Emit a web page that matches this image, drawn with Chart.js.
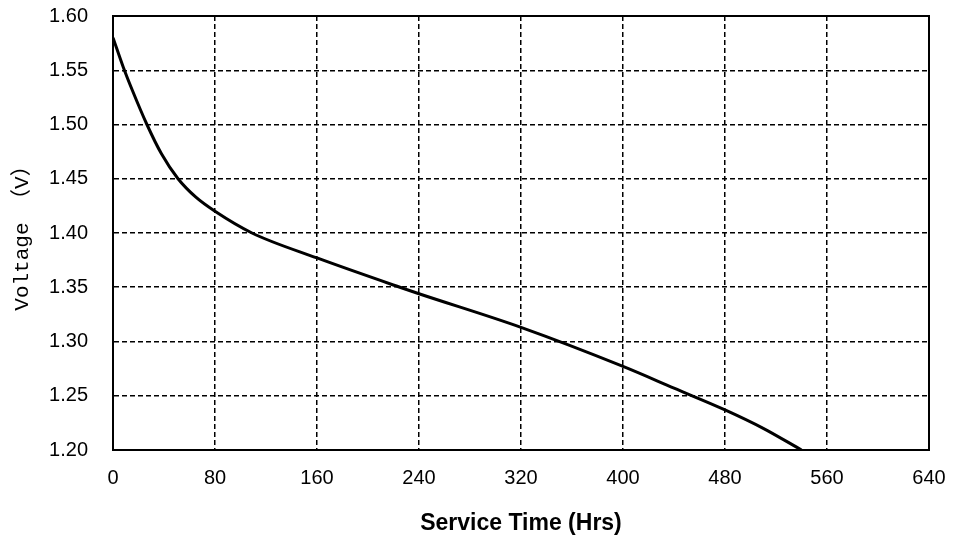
<!DOCTYPE html>
<html>
<head>
<meta charset="utf-8">
<script src="https://cdn.jsdelivr.net/npm/chart.js@4"></script>
<style>
  html, body { margin: 0; padding: 0; background: #fff; }
  #wrap { width: 954px; height: 540px; }
</style>
</head>
<body>
<div id="wrap"><canvas id="voltChart"></canvas></div>
<script>
// ==================================== DATA ============================================

const serviceHours = [0, 8, 15, 26.6, 38, 51, 65, 80, 109, 160, 225, 240, 320, 400, 440, 480, 510, 540];
const voltage = [1.58, 1.553, 1.532, 1.5, 1.473, 1.45, 1.433, 1.42, 1.4, 1.377, 1.35, 1.344, 1.313, 1.277, 1.257, 1.237, 1.22, 1.2];

const xTicks = [0, 80, 160, 240, 320, 400, 480, 560, 640];
const yTicks = [1.2, 1.25, 1.3, 1.35, 1.4, 1.45, 1.5, 1.55, 1.6];

// ==================================== CHART ============================================

// solid frame round the plot area (top and right edges would otherwise be dashed)
const frame = {
  id: "frame",
  afterDraw(chart) {
    const { ctx, chartArea: a } = chart;
    ctx.save();
    ctx.strokeStyle = "#000";
    ctx.lineWidth = 2;
    ctx.strokeRect(a.left, a.top, a.right - a.left, a.bottom - a.top);
    ctx.restore();
  },
};

// no extra room for overhanging labels, the layout padding decides
function noOverhang(s) {
  s.paddingTop = 0;
  s.paddingBottom = 0;
  s.paddingLeft = 0;
  s.paddingRight = 0;
}

const points = serviceHours.map((h, i) => ({ x: h, y: voltage[i] }));

new Chart(document.getElementById("voltChart"), {
  type: "line",
  data: {
    datasets: [
      {
        data: points,
        borderColor: "#000",
        borderWidth: 3,
        pointRadius: 0,
        cubicInterpolationMode: "monotone",
        fill: false,
      },
    ],
  },
  options: {
    responsive: true,
    maintainAspectRatio: false,
    animation: false,
    layout: { padding: { top: 16, right: 25, left: 0, bottom: 0 } },
    plugins: { legend: { display: false }, tooltip: { enabled: false } },
    scales: {
      x: {
        type: "linear",
        min: xTicks[0],
        max: xTicks[xTicks.length - 1],
        afterBuildTicks: (s) => { s.ticks = xTicks.map((v) => ({ value: v })); },
        afterFit: (s) => { s.height = 90; noOverhang(s); },
        ticks: {
          color: "#000",
          font: { family: "Liberation Sans, Arial", size: 20 },
          padding: 16,
          maxRotation: 0,
        },
        grid: { color: "#000", lineWidth: 1.5, drawTicks: false },
        border: { color: "#000", width: 2, dash: [5, 3] },
        title: {
          display: true,
          text: "Service Time (Hrs)",
          color: "#000",
          font: { family: "Liberation Sans, Arial", size: 23, weight: "bold" },
          padding: { top: 0, bottom: 3 },
        },
      },
      y: {
        min: yTicks[0],
        max: yTicks[yTicks.length - 1],
        afterBuildTicks: (s) => { s.ticks = yTicks.map((v) => ({ value: v })); },
        afterFit: (s) => { s.width = 113; noOverhang(s); },
        ticks: {
          color: "#000",
          font: { family: "Liberation Sans, Arial", size: 20 },
          padding: 25,
          callback: (v) => v.toFixed(2),
        },
        grid: { color: "#000", lineWidth: 1.5, drawTicks: false },
        border: { color: "#000", width: 2, dash: [5, 3] },
        title: {
          display: true,
          text: "Voltage （V）",
          color: "#000",
          font: { family: "'Liberation Mono', 'Noto Sans CJK SC', monospace", size: 21 },
          padding: { top: 10, bottom: 0 },
        },
      },
    },
  },
  plugins: [frame],
});
</script>
</body>
</html>
